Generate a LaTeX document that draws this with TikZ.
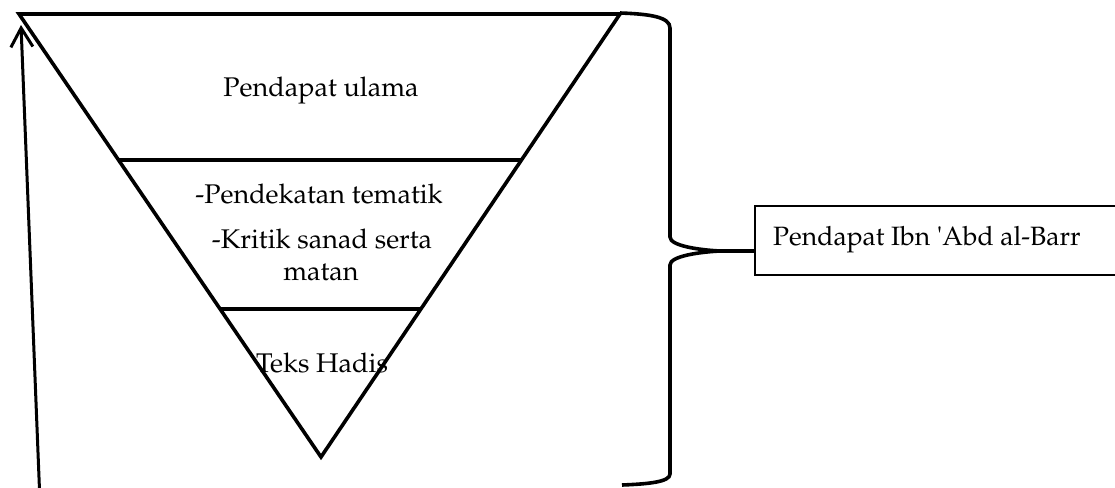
\documentclass[tikz,border=0pt]{standalone}
\usepackage[T1]{fontenc}
\usetikzlibrary{arrows.meta}
\begin{document}
\begin{tikzpicture}[x=1pt,y=-1pt,
  txt/.style={anchor=base,inner sep=0pt,font=\fontfamily{ppl}\fontsize{27}{30}\selectfont},
  thick line/.style={line width=3.6pt,line join=miter},
  boxstyle/.style={draw,line width=1.8pt,anchor=north west,minimum width=380pt,minimum height=69pt,inner sep=0pt}]
\useasboundingbox (0,0) rectangle (1115,487);
% triangle corners
\coordinate (tl) at (19,14);
\coordinate (tr) at (620,14);
\coordinate (ap) at (321,457);
\draw[thick line] (tl) -- (tr) -- (ap) -- cycle;
% dividers
\coordinate (d1l) at (118.5,160);
\coordinate (d1r) at (521.5,160);
\coordinate (d2l) at (220,309);
\coordinate (d2r) at (422,309);
\draw[thick line] (d1l) -- (d1r);
\draw[thick line] (d2l) -- (d2r);
% texts
\node[txt] (t1) at (321,96) {Pendapat ulama};
\node[txt] (t2) at (319,203) {-Pendekatan tematik};
\node[txt] (t3) at (322,248) {-Kritik sanad serta};
\node[txt] (t4) at (321,280) {matan};
\node[txt] (t5) at (322,372) {Teks Hadis};
% box
\node[boxstyle] (box) at (754,205) {};
\node[txt,anchor=base west] (bt) at (773,245) {\fontsize{26.5}{30}\selectfont Pendapat Ibn \textquotesingle Abd al-Barr};
% brace
\coordinate (bs) at (620,13);
\coordinate (tip) at (720,251);
\coordinate (be) at (622,485);
\draw[line width=3.6pt]
  (bs) .. controls (650,14) and (670,17) .. (670,28)
  -- (670,237) .. controls (670,246) and (700,250) .. (tip)
  .. controls (700,252) and (670,256) .. (670,265)
  -- (670,474) .. controls (670,482) and (648,484) .. (be);
\draw[line width=3.6pt] (tip) -- (box.west |- tip);
% arrow
\coordinate (as) at (39.5,490);
\coordinate (ae) at (21,25);
\draw[line width=3pt,-{Straight Barb[length=19pt,width=22pt,line width=3pt]}] (as) -- (ae);
\end{tikzpicture}
\end{document}
